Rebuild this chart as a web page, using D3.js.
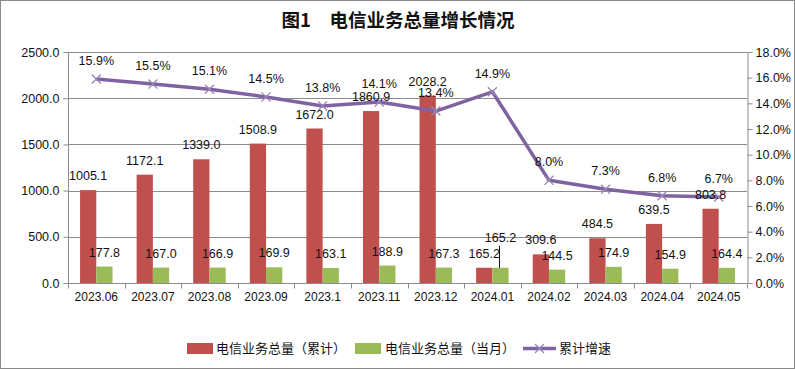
<!DOCTYPE html>
<html>
<head>
<meta charset="utf-8">
<script src="https://cdn.jsdelivr.net/npm/d3@7"></script>
<style>
  body { margin: 0; background: #fff; }
  text { font-family: "Liberation Sans", Arial, sans-serif; }
  .cjk { font-family: "Noto Sans CJK SC", sans-serif; }
</style>
</head>
<body>
<div id="chart"></div>
<script>
// chart data
var months = ["2023.06", "2023.07", "2023.08", "2023.09", "2023.1", "2023.11", "2023.12",
              "2024.01", "2024.02", "2024.03", "2024.04", "2024.05"];
var cumulative = [1005.1, 1172.1, 1339.0, 1508.9, 1672.0, 1860.9, 2028.2, 165.2, 309.6, 484.5, 639.5, 803.8];
var monthly = [177.8, 167.0, 166.9, 169.9, 163.1, 188.9, 167.3, 165.2, 144.5, 174.9, 154.9, 164.4];
var growth = [15.9, 15.5, 15.1, 14.5, 13.8, 14.1, 13.4, 14.9, 8.0, 7.3, 6.8, 6.7];
var leftTicks = [0, 500, 1000, 1500, 2000, 2500];
var rightTicks = [0, 2, 4, 6, 8, 10, 12, 14, 16, 18];
var seriesNames = ["电信业务总量（累计）", "电信业务总量（当月）", "累计增速"];

var svgWidth = 795;
var svgHeight = 369;
var plot = { left: 68, right: 747, top: 52, bottom: 283 };

var red = "#C0504D", green = "#9BBB59", purple = "#7E63A0";

var svg = d3.select("#chart")
    .append("svg")
    .attr("width", svgWidth)
    .attr("height", svgHeight);

// outer frame
svg.append("rect")
    .attr("x", 0.5).attr("y", 0.5)
    .attr("width", svgWidth - 1).attr("height", svgHeight - 1)
    .attr("fill", "#fff").attr("stroke", "#8a8a8a");

// title
svg.append("text")
    .attr("class", "cjk")
    .attr("x", 398).attr("y", 27)
    .attr("text-anchor", "middle")
    .style("font-size", "18.5px").style("font-weight", "bold")
    .attr("fill", "#111")
    .text("图1　电信业务总量增长情况");

// scales
var x = d3.scaleBand().domain(months).range([plot.left, plot.right]);
var xSub = d3.scaleBand().domain(["cum", "mon"])
    .range([x.bandwidth() * 0.213, x.bandwidth() * 0.787]);
var yLeft = d3.scaleLinear().domain([0, 2500]).range([plot.bottom, plot.top]);
var yRight = d3.scaleLinear().domain([0, 18]).range([plot.bottom, plot.top]);

// gridlines
svg.append("g")
    .selectAll("line")
    .data(leftTicks.slice(1))
    .enter()
    .append("line")
    .attr("x1", plot.left).attr("x2", plot.right)
    .attr("y1", d => Math.round(yLeft(d)) + 0.5)
    .attr("y2", d => Math.round(yLeft(d)) + 0.5)
    .attr("stroke", "#8c8c8c");

// bars
var rows = months.map((m, i) => ({ m: m, cum: cumulative[i], mon: monthly[i], g: growth[i] }));

svg.append("g").selectAll("rect")
    .data(rows).enter().append("rect")
    .attr("x", d => x(d.m) + xSub("cum"))
    .attr("width", xSub.bandwidth())
    .attr("y", d => yLeft(d.cum))
    .attr("height", d => plot.bottom - yLeft(d.cum))
    .attr("fill", red);

svg.append("g").selectAll("rect")
    .data(rows).enter().append("rect")
    .attr("x", d => x(d.m) + xSub("mon"))
    .attr("width", xSub.bandwidth())
    .attr("y", d => yLeft(d.mon))
    .attr("height", d => plot.bottom - yLeft(d.mon))
    .attr("fill", green);

// axes
var leftAxis = d3.axisLeft(yLeft).tickValues(leftTicks).tickFormat(d3.format(".1f")).tickSize(5).tickPadding(4);
var rightAxis = d3.axisRight(yRight).tickValues(rightTicks).tickFormat(d => d.toFixed(1) + "%").tickSize(5).tickPadding(3);
var bottomAxis = d3.axisBottom(x).tickSize(0).tickPadding(9);

function styleAxis(g) {
    g.select(".domain").attr("stroke", "#8c8c8c");
    g.selectAll(".tick line").attr("stroke", "#8c8c8c");
    g.selectAll("text").attr("fill", "#111").style("font-size", "12.5px")
        .style("font-family", "'Liberation Sans', Arial, sans-serif");
}

svg.append("g").attr("transform", `translate(${plot.left + 0.5},0)`)
    .call(leftAxis).call(styleAxis)
    .call(g => g.select(".domain").attr("d", `M-5,${plot.top + 0.5}H0V${plot.bottom + 0.5}H-5`));
svg.append("g").attr("transform", `translate(${plot.right + 0.5},0)`)
    .call(rightAxis).call(styleAxis);
var xAxisG = svg.append("g").attr("transform", `translate(0,${plot.bottom + 0.5})`)
    .call(bottomAxis).call(styleAxis);
xAxisG.select(".domain").attr("d", `M${plot.left},0H${plot.right}`);
xAxisG.selectAll("text").style("font-size", "12px");
// category boundary ticks
xAxisG.append("g").selectAll("line")
    .data(months.map(m => x(m)).concat([plot.right]))
    .enter().append("line")
    .attr("x1", d => Math.round(d) + 0.5).attr("x2", d => Math.round(d) + 0.5)
    .attr("y1", 0).attr("y2", 5)
    .attr("stroke", "#8c8c8c");

// growth line
var cx = d => x(d.m) + x.bandwidth() / 2;
var line = d3.line().x(cx).y(d => yRight(d.g));
svg.append("path")
    .datum(rows)
    .attr("d", line)
    .attr("fill", "none")
    .attr("stroke", purple)
    .attr("stroke-width", 3.5)
    .attr("stroke-linejoin", "round");

var cross = d3.symbol().type(d3.symbolX).size(55);
svg.append("g").selectAll("path")
    .data(rows).enter().append("path")
    .attr("d", cross)
    .attr("transform", d => `translate(${cx(d)},${yRight(d.g)})`)
    .attr("fill", "none")
    .attr("stroke", "#9a86b8")
    .attr("stroke-width", 1.3);

// data labels
var labelSize = "12.5px";
// the green label for 2024.01 was lifted in the original, with a leader line
var greenLift = { "2024.01": 16 };

svg.append("g").selectAll("text")
    .data(rows).enter().append("text")
    .attr("x", d => x(d.m) + xSub("cum") + xSub.bandwidth() / 2)
    .attr("y", d => yLeft(d.cum) - 10)
    .attr("text-anchor", "middle")
    .style("font-size", labelSize).attr("fill", "#111")
    .text(d => d.cum.toFixed(1));

svg.append("g").selectAll("text")
    .data(rows).enter().append("text")
    .attr("x", d => x(d.m) + xSub("mon") + xSub.bandwidth() / 2)
    .attr("y", d => yLeft(d.mon) - 10 - (greenLift[d.m] || 0))
    .attr("text-anchor", "middle")
    .style("font-size", labelSize).attr("fill", "#111")
    .text(d => d.mon.toFixed(1));

svg.append("g").selectAll("line")
    .data(rows.filter(d => greenLift[d.m])).enter().append("line")
    .attr("x1", d => Math.round(x(d.m) + xSub("mon") + xSub.bandwidth() / 2) - 0.5)
    .attr("x2", d => Math.round(x(d.m) + xSub("mon") + xSub.bandwidth() / 2) - 0.5)
    .attr("y1", d => yLeft(d.mon) - greenLift[d.m] - 6)
    .attr("y2", d => yLeft(d.mon))
    .attr("stroke", "#111").attr("stroke-width", 1);

svg.append("g").selectAll("text")
    .data(rows).enter().append("text")
    .attr("x", cx)
    .attr("y", d => yRight(d.g) - 14)
    .attr("text-anchor", "middle")
    .style("font-size", labelSize).attr("fill", "#111")
    .text(d => d.g.toFixed(1) + "%");

// legend
var legend = svg.append("g").attr("transform", "translate(0,348)");
legend.append("rect").attr("x", 187).attr("y", -5).attr("width", 26).attr("height", 11).attr("fill", red);
legend.append("text").attr("class", "cjk").attr("x", 216).attr("y", 5)
    .style("font-size", "13px").attr("fill", "#111").text(seriesNames[0]);
legend.append("rect").attr("x", 355).attr("y", -5).attr("width", 26).attr("height", 11).attr("fill", green);
legend.append("text").attr("class", "cjk").attr("x", 385).attr("y", 5)
    .style("font-size", "13px").attr("fill", "#111").text(seriesNames[1]);
legend.append("line").attr("x1", 523).attr("x2", 556).attr("y1", 0.5).attr("y2", 0.5)
    .attr("stroke", purple).attr("stroke-width", 3.5);
legend.append("path").attr("d", cross).attr("transform", "translate(539.5,0.5)")
    .attr("fill", "none").attr("stroke", "#9a86b8").attr("stroke-width", 1.3);
legend.append("text").attr("class", "cjk").attr("x", 559).attr("y", 5)
    .style("font-size", "13px").attr("fill", "#111").text(seriesNames[2]);
</script>
</body>
</html>
